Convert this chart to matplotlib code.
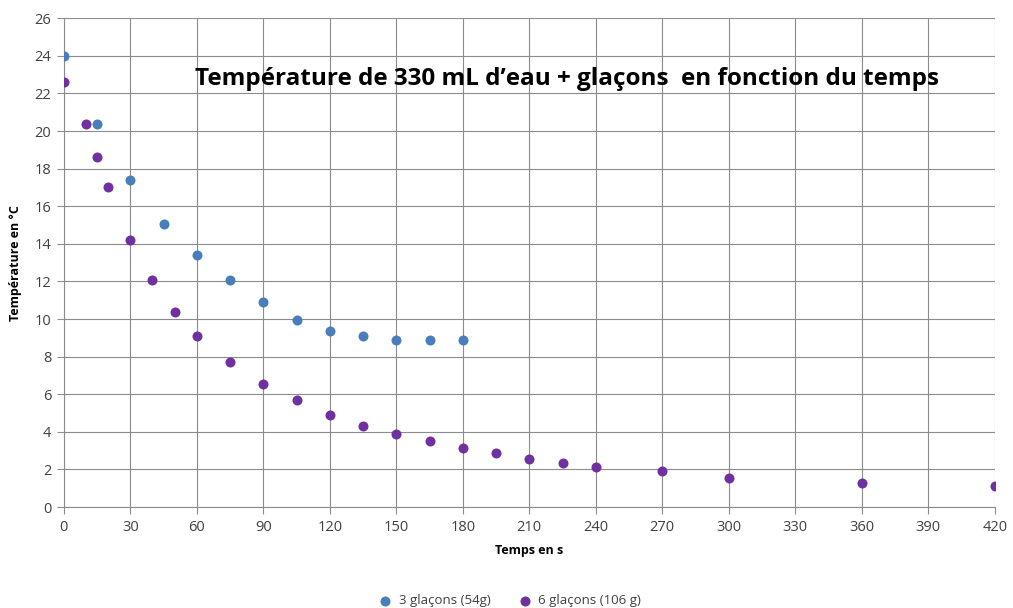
import numpy as np
import matplotlib.pyplot as plt

# Données
t_3 = [0, 15, 30, 45, 60, 75, 90, 105, 120, 135, 150, 165, 180]
T_3 = [24.0, 20.4, 17.4, 15.05, 13.4, 12.1, 10.9, 9.95, 9.35, 9.1, 8.9, 8.9, 8.9]

t_6 = [0, 10, 15, 20, 30, 40, 50, 60, 75, 90, 105, 120, 135, 150, 165, 180,
       195, 210, 225, 240, 270, 300, 360, 420]
T_6 = [22.6, 20.4, 18.6, 17.0, 14.2, 12.1, 10.35, 9.1, 7.7, 6.55, 5.7, 4.9,
       4.3, 3.9, 3.5, 3.15, 2.9, 2.55, 2.35, 2.15, 1.9, 1.55, 1.3, 1.1]

labels = ['3 glaçons (54g)', '6 glaçons (106 g)']
xticks = np.arange(0, 421, 30)
yticks = np.arange(0, 27, 2)

color_3 = '#4A7EBB'
color_6 = '#7030A0'
grid_color = '#8c8c8c'
text_color = '#404040'

plt.rcParams['font.family'] = ['Open Sans', 'DejaVu Sans']

fig = plt.figure(figsize=(10.13, 6.08), dpi=100)
ax = fig.add_axes([0.063, 0.166, 0.919, 0.804])

ax.scatter(t_3, T_3, s=52, color=color_3, label=labels[0], zorder=3, linewidths=0)
ax.scatter(t_6, T_6, s=52, color=color_6, label=labels[1], zorder=3, linewidths=0)

ax.set_xlim(0, 420)
ax.set_ylim(0, 26)
ax.set_xticks(xticks)
ax.set_yticks(yticks)
ax.grid(True, color=grid_color, linewidth=0.8)
ax.set_axisbelow(True)
for side in ['top', 'right']:
    ax.spines[side].set_visible(False)
for side in ['left', 'bottom']:
    ax.spines[side].set_color(grid_color)
    ax.spines[side].set_linewidth(0.8)
ax.tick_params(direction='out', length=5, width=0.8, color=grid_color, labelsize=10.5,
               labelcolor=text_color, pad=4)

ax.set_xlabel('Temps en s', fontsize=9, fontweight='bold', labelpad=7)
ax.set_ylabel('Température en °C', fontsize=9, fontweight='bold', labelpad=9)

ax.text(0.54, 0.875, "Température de 330 mL d’eau + glaçons  en fonction du temps",
        transform=ax.transAxes, ha='center', va='center', fontsize=17.5,
        fontweight='bold', color='black')

fig.legend(loc='lower center', bbox_to_anchor=(0.5, -0.018), ncol=2, frameon=False,
           fontsize=9.5, handletextpad=0.0, columnspacing=1.6, markerscale=1.0,
           labelcolor=text_color)

fig.savefig('out.png', dpi=100)
